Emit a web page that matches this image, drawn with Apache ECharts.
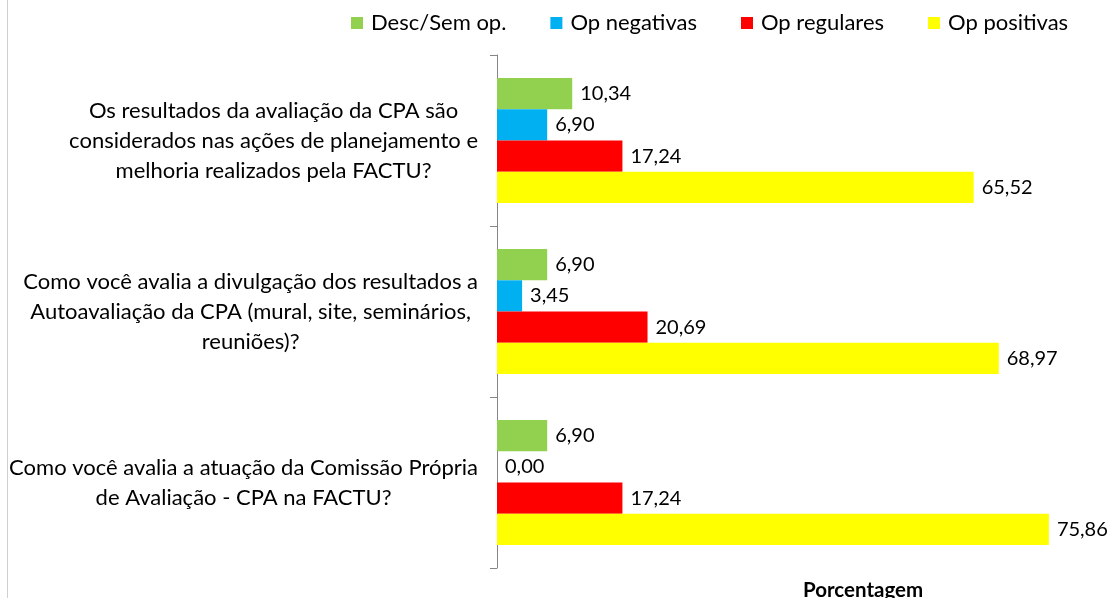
<!DOCTYPE html>
<html>
<head>
<meta charset="utf-8">
<script src="https://cdn.jsdelivr.net/npm/echarts@6/dist/echarts.min.js"></script>
<style>
  html, body { margin: 0; padding: 0; background: #fff; }
  #chart { width: 1113px; height: 598px; }
</style>
</head>
<body>
<div id="chart"></div>
<script>
// Categories (top to bottom), each as wrapped lines
const categories = [
  ['Os resultados da avaliação da CPA são', 'considerados nas ações de planejamento e', 'melhoria realizados pela FACTU?'],
  ['Como você avalia a divulgação dos resultados a', 'Autoavaliação da CPA (mural, site, seminários,', 'reuniões)?'],
  ['Como você avalia a atuação da Comissão Própria', 'de Avaliação - CPA na FACTU?']
];

const seriesNames = ['Desc/Sem op.', 'Op negativas', 'Op regulares', 'Op positivas'];
const seriesColors = ['#92d050', '#00b0f0', '#ff0000', '#ffff00'];

// Values per series, one per category
const descSemOp = [10.34, 6.90, 6.90];
const opNegativas = [6.90, 3.45, 0.00];
const opRegulares = [17.24, 20.69, 17.24];
const opPositivas = [65.52, 68.97, 75.86];

const seriesValues = [descSemOp, opNegativas, opRegulares, opPositivas];

const FONT = 'Lato';

const chart = echarts.init(document.getElementById('chart'));

const option = {
  backgroundColor: '#fff',
  animation: false,
  textStyle: { fontFamily: FONT },
  legend: {
    top: 7,
    left: 346,
    itemWidth: 12,
    itemHeight: 12,
    itemGap: 44,
    icon: 'rect',
    textStyle: { fontFamily: FONT, fontSize: 22, color: '#000', padding: [0, 0, 0, 3] },
    data: seriesNames
  },
  title: {
    text: 'Porcentagem',
    left: 798,
    top: 575,
    textStyle: { fontFamily: FONT, fontSize: 20.5, fontWeight: 'bold', color: '#000' }
  },
  grid: {
    left: 497,
    right: 34,
    top: 55,
    bottom: 30,
    containLabel: false
  },
  xAxis: {
    type: 'value',
    min: 0,
    max: 80,
    show: false
  },
  yAxis: {
    type: 'category',
    inverse: true,
    data: categories.map(lines => lines.join('\n')),
    axisLine: { lineStyle: { color: '#868686', width: 1 } },
    axisTick: { show: true, length: 7, lineStyle: { color: '#868686' } },
    axisLabel: {
      margin: 19,
      color: '#000',
      fontFamily: FONT,
      fontSize: 22,
      lineHeight: 30,
      formatter: function (value) {
        return value.split('\n').map(l => '{c|' + l + '}').join('\n');
      },
      rich: {
        c: { align: 'center', fontFamily: FONT, fontSize: 22, lineHeight: 30, color: '#000' }
      }
    }
  },
  graphic: [{
    type: 'line',
    shape: { x1: 7.5, y1: 0, x2: 7.5, y2: 598 },
    style: { stroke: '#d0d0d0', lineWidth: 1 }
  }],
  series: seriesNames.map((name, i) => ({
    name: name,
    type: 'bar',
    data: seriesValues[i],
    barGap: '0%',
    barCategoryGap: '27%',
    itemStyle: { color: seriesColors[i] },
    label: {
      show: true,
      position: 'right',
      distance: 8,
      color: '#000',
      fontFamily: FONT,
      fontSize: 20,
      formatter: p => p.value.toFixed(2).replace('.', ',')
    }
  }))
};

chart.setOption(option);
</script>
</body>
</html>
